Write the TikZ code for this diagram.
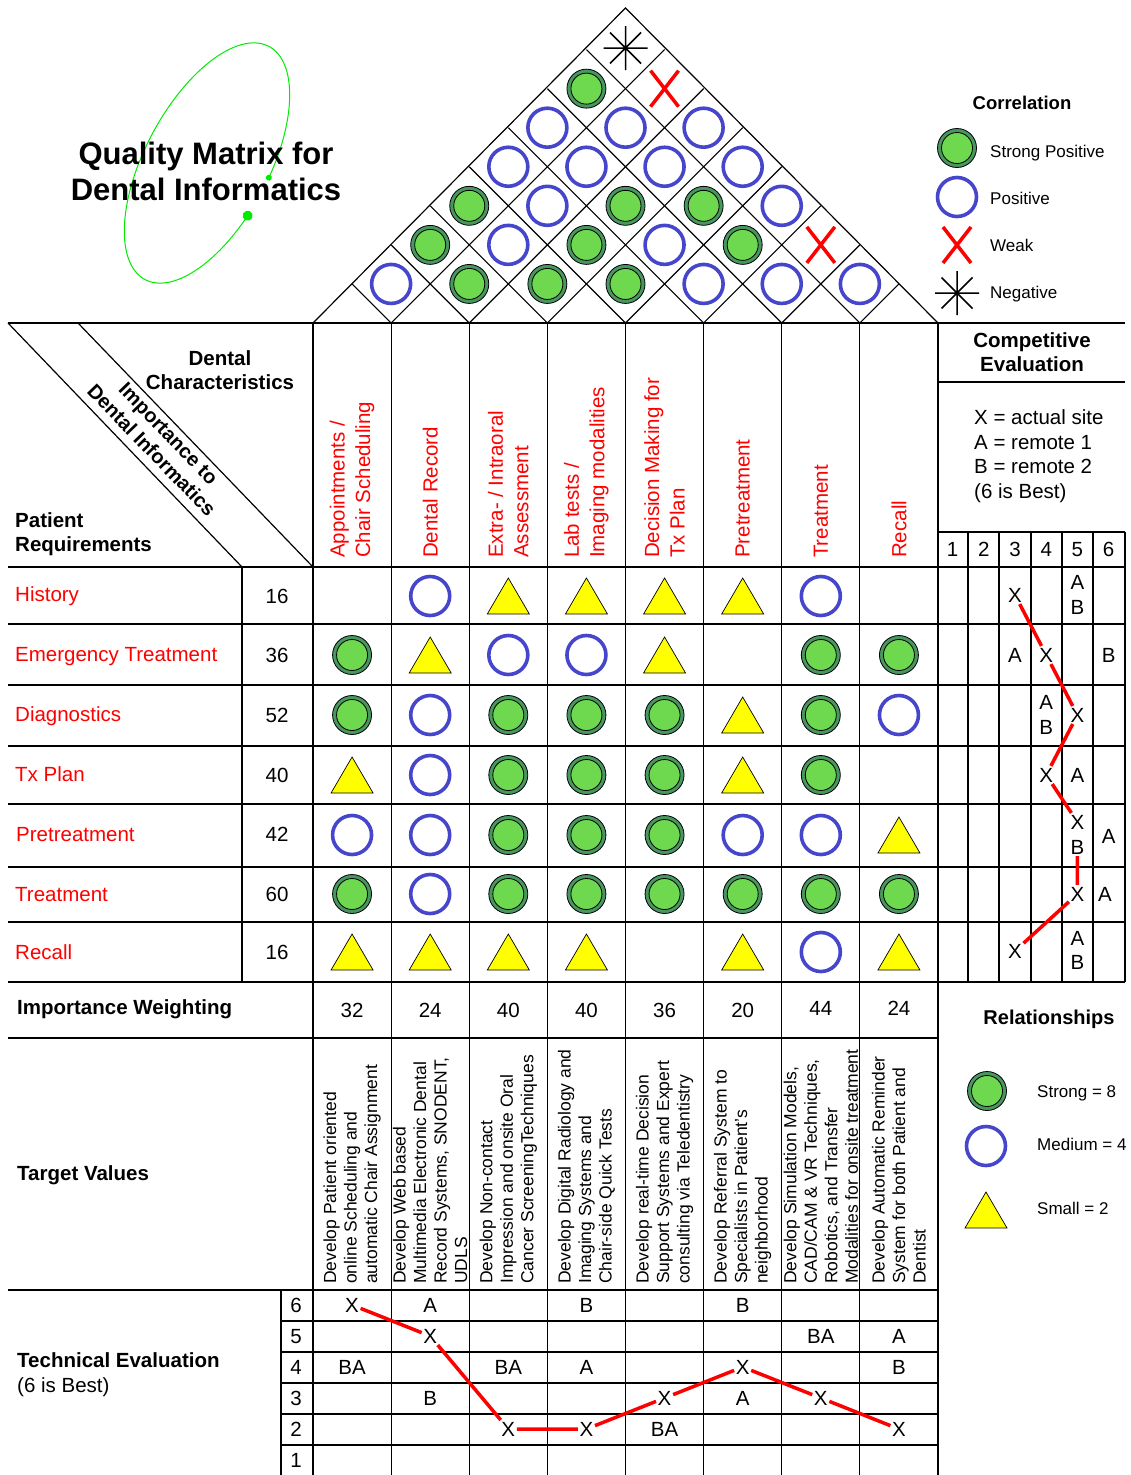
\documentclass[tikz,border=0pt]{standalone}
\usepackage{fontspec}
\setmainfont{Liberation Sans}
\definecolor{qred}{RGB}{255,0,0}
\definecolor{qblue}{RGB}{70,70,205}
\definecolor{qdkgreen}{RGB}{72,150,96}
\definecolor{qltgreen}{RGB}{110,216,78}
\definecolor{qyellow}{RGB}{255,255,0}
\definecolor{qlime}{RGB}{0,235,0}
\newcommand\qHead{\fontsize{20.5}{25.5}\selectfont}
\newcommand\qHeadB{\fontsize{20.5}{24.5}\selectfont\bfseries}
\newcommand\qTgt{\fontsize{17.5}{20.5}\selectfont}
\newcommand\qLeg{\fontsize{17}{20}\selectfont}
\newcommand\qTitle{\fontsize{31}{36}\selectfont\bfseries}
\begin{document}
\begin{tikzpicture}[x=1pt,y=-1pt,
  gline/.style={line width=1.2pt, black},
  qstrong/.style={circle, draw=black, line width=0.8pt, fill=qdkgreen, minimum size=39pt, inner sep=0pt,
    path picture={\fill[qltgreen, draw=black, line width=0.8pt] (path picture bounding box.center) circle[radius=15.5pt];}},
  qmedium/.style={circle, draw=qblue, line width=3.6pt, minimum size=39pt, inner sep=0pt},
  tri/.pic={\draw[black, fill=qyellow, line width=0.7pt] (-21,18) -- (21,18) -- (0,-18) -- cycle;},
  weak/.pic={\draw[qred, line width=3.5pt] (-14,-18) -- (14,18) (-14,18) -- (14,-18);},
  neg/.pic={\draw[black, line width=1.5pt] (-22,0) -- (22,0) (0,-22) -- (0,22) (-15.5,-15.5) -- (15.5,15.5) (-15.5,15.5) -- (15.5,-15.5);},
  txtA/.style={font=\qHead, text height=14.7pt, text depth=0pt, inner sep=0pt},
  txtB/.style={font=\qHeadB, text height=14.7pt, text depth=0pt, inner sep=0pt},
  txtL/.style={font=\qLeg, text height=12.2pt, text depth=0pt, inner sep=0pt},
  rowlab/.style={txtA, text=qred, anchor=west},
  colhead/.style={rotate=90, anchor=west, align=left, text=qred, font=\qHead, inner sep=0pt},
  tgt/.style={rotate=90, anchor=west, align=left, font=\qTgt, inner sep=0pt},
  xmark/.style={txtA, inner sep=1.5pt},
  redline/.style={qred, line width=3.5pt}
]
\useasboundingbox (0,0) rectangle (1130,1475);

% ---------- title with green ellipse ----------
\begin{scope}[shift={(207,163)}, rotate=62, x=1pt, y=1pt]
  \draw[qlime, line width=1pt] (-83:132 and 62) arc[start angle=-83, end angle=258, x radius=132, y radius=62];
  \fill[qlime] (-83:132 and 62) circle[radius=3];
  \fill[qlime] (258:132 and 62) circle[radius=5];
\end{scope}
\node[font=\qTitle, align=center, inner sep=0pt] (title) at (206,171) {Quality Matrix for\\Dental Informatics};

% ---------- roof ----------
\draw[gline] (313,323) -- (625.5,8) -- (938,323);
\foreach \k in {1,...,7}{
  \pgfmathsetmacro{\bx}{313+78.125*\k}
  \draw[gline] ({(313+\bx)/2},{323-(\bx-313)/2}) -- (\bx,323) -- ({(\bx+938)/2},{323-(938-\bx)/2});
}
\foreach \i/\j in {2/3,3/4,4/5,1/3,3/5,5/7,1/4,3/6,4/7,1/7}{
  \pgfmathsetmacro{\xx}{313+78.125*((\i+\j)/2-0.5)}
  \pgfmathsetmacro{\yy}{323-(\j-\i)*39.06}
  \node[qstrong] (r-\i-\j) at (\xx,\yy) {};
}
\foreach \i/\j in {1/2,5/6,6/7,7/8,2/4,4/6,2/5,5/8,1/5,2/6,3/7,4/8,1/6,2/7,3/8}{
  \pgfmathsetmacro{\xx}{313+78.125*((\i+\j)/2-0.5)}
  \pgfmathsetmacro{\yy}{323-(\j-\i)*39.06}
  \node[qmedium] (r-\i-\j) at (\xx,\yy) {};
}
\foreach \i/\j in {6/8,2/8}{
  \pgfmathsetmacro{\xx}{313+78.125*((\i+\j)/2-0.5)}
  \pgfmathsetmacro{\yy}{323-(\j-\i)*39.06}
  \pic at (\xx,\yy) {weak};
}
\pic at (625.5,48) {neg};

% ---------- grid lines ----------
\draw[gline] (8,323) -- (1125,323);
\draw[gline] (938,382) -- (1125,382);
\draw[gline] (938,532) -- (1125,532);
\foreach \y in {567,624,685,746,804,867,922,982}{\draw[gline] (8,\y) -- (1125,\y);}
\draw[gline] (8,1038) -- (938,1038);
\draw[gline] (8,1290) -- (938,1290);
\foreach \y in {1321,1352,1383,1414,1445}{\draw[gline] (281,\y) -- (938,\y);}
\foreach \k in {0,...,8}{\draw[gline] ({313+78.125*\k},323) -- ({313+78.125*\k},1475);}
\draw[gline] (242,567) -- (242,982);
\draw[gline] (281,1290) -- (281,1475);
\foreach \x in {968,999,1031,1062,1093,1125}{\draw[gline] (\x,532) -- (\x,982);}
\draw[gline] (8,323) -- (242,567);
\draw[gline] (78,323) -- (313,567);

% ---------- header texts ----------
\node[font=\qHeadB, align=center, inner sep=0pt] (dchar) at (220,370) {Dental\\Characteristics};
\node[font=\qHeadB, align=left, anchor=west, inner sep=0pt] (preq) at (15,534) {Patient\\Requirements};
\node[font=\fontsize{20}{23.5}\selectfont\bfseries, align=center, rotate=-46, inner sep=0pt] (imp) at (160,442) {Importance to\\Dental Informatics};

\node[colhead] (h1) at (352.06,558) {Appointments /\\Chair Scheduling};
\node[colhead] (h2) at (430.19,558) {Dental Record};
\node[colhead] (h3) at (508.31,558) {Extra- / Intraoral\\Assessment};
\node[colhead] (h4) at (586.44,558) {Lab tests /\\Imaging modalities};
\node[colhead] (h5) at (664.56,558) {Decision Making for\\Tx Plan};
\node[colhead] (h6) at (742.69,558) {Pretreatment};
\node[colhead] (h7) at (820.81,558) {Treatment};
\node[colhead] (h8) at (898.94,558) {Recall};

% ---------- row labels & importance ----------
\node[rowlab] (l1) at (15,594) {History};
\node[rowlab] (l2) at (15,654) {Emergency Treatment};
\node[rowlab] (l3) at (15,714) {Diagnostics};
\node[rowlab] (l4) at (15,774) {Tx Plan};
\node[rowlab] (l5) at (16,834) {Pretreatment};
\node[rowlab] (l6) at (15,894) {Treatment};
\node[rowlab] (l7) at (15,952) {Recall};
\foreach \r/\v in {1/16,2/36,3/52,4/40,5/42,6/60,7/16}{
  \pgfmathsetmacro{\yy}{{596,655,715,775,834,894,952}[\r-1]}
  \node[txtA] (w-\r) at (277,\yy) {\v};
}

% ---------- relationship matrix ----------
\foreach \r/\c in {2/1,2/7,2/8,3/1,3/3,3/4,3/5,3/7,4/3,4/4,4/5,4/7,5/3,5/4,5/5,6/1,6/3,6/4,6/5,6/6,6/7,6/8}{
  \pgfmathsetmacro{\xx}{313+78.125*(\c-0.5)}
  \pgfmathsetmacro{\yy}{{596,655,715,775,835,894,952}[\r-1]}
  \node[qstrong] (m-\r-\c) at (\xx,\yy) {};
}
\foreach \r/\c in {1/2,1/7,2/3,2/4,3/2,3/8,4/2,5/1,5/2,5/6,5/7,6/2,7/7}{
  \pgfmathsetmacro{\xx}{313+78.125*(\c-0.5)}
  \pgfmathsetmacro{\yy}{{596,655,715,775,835,894,952}[\r-1]}
  \node[qmedium] (m-\r-\c) at (\xx,\yy) {};
}
\foreach \r/\c in {1/3,1/4,1/5,1/6,2/2,2/5,3/6,4/1,4/6,5/8,7/1,7/2,7/3,7/4,7/6,7/8}{
  \pgfmathsetmacro{\xx}{313+78.125*(\c-0.5)}
  \pgfmathsetmacro{\yy}{{596,655,715,775,835,894,952}[\r-1]}
  \pic at (\xx,\yy) {tri};
}

% ---------- importance weighting ----------
\node[txtB, anchor=west] (iw) at (17,1007) {Importance Weighting};
\foreach \c/\v/\yy in {1/32/1010,2/24/1010,3/40/1010,4/40/1010,5/36/1010,6/20/1010,7/44/1008,8/24/1008}{
  \node[txtA] (iw-\c) at ({313+78.125*(\c-0.5)},\yy) {\v};
}

% ---------- target values ----------
\node[txtB, anchor=west] (tv) at (17,1173) {Target Values};
\node[tgt] (t1) at (352.06,1284) {Develop Patient oriented\\online Scheduling and\\automatic Chair Assignment};
\node[tgt] (t2) at (430.19,1284) {Develop Web based\\Multimedia Electronic Dental\\Record Systems, SNODENT,\\UDLS};
\node[tgt] (t3) at (508.31,1284) {Develop Non-contact\\Impression and onsite Oral\\Cancer ScreeningTechniques};
\node[tgt] (t4) at (586.44,1284) {Develop Digital Radiology and\\Imaging Systems and\\Chair-side Quick Tests};
\node[tgt] (t5) at (664.56,1284) {Develop real-time Decision\\Support Systems and Expert\\consulting via Teledentistry};
\node[tgt] (t6) at (742.69,1284) {Develop Referral System to\\Specialists in Patient's\\neighborhood};
\node[tgt] (t7) at (820.81,1284) {Develop Simulation Models,\\CAD/CAM \& VR Techniques,\\Robotics, and Transfer\\Modalities for onsite treatment};
\node[tgt] (t8) at (898.94,1284) {Develop Automatic Reminder\\System for both Patient and\\Dentist};

% ---------- technical evaluation ----------
\node[txtB, anchor=west] (te) at (17,1360) {Technical Evaluation};
\node[txtA, anchor=west] (te2) at (17,1385) {(6 is Best)};
\foreach \v/\yy in {6/1305,5/1336,4/1367,3/1398,2/1429,1/1460}{
  \node[txtA] (tr-\v) at (296,\yy) {\v};
}
\foreach \c/\yy/\t in {2/1305/A,4/1305/B,6/1305/B,7/1336/BA,8/1336/A,1/1367/BA,3/1367/BA,4/1367/A,8/1367/B,2/1398/B,6/1398/A,5/1429/BA}{
  \node[txtA] (tl-\c-\yy) at ({313+78.125*(\c-0.5)},\yy) {\t};
}
\foreach \c/\yy in {1/1305,2/1336,3/1429,4/1429,5/1398,6/1367,7/1398,8/1429}{
  \node[xmark] (tx\c) at ({313+78.125*(\c-0.5)},\yy) {X};
}
\draw[redline] (tx1) -- (tx2) -- (tx3) -- (tx4) -- (tx5) -- (tx6) -- (tx7) -- (tx8);

% ---------- competitive evaluation ----------
\node[font=\qHeadB, align=center, inner sep=0pt] (ce) at (1032,352) {Competitive\\Evaluation};
\node[font=\fontsize{20.5}{24.6}\selectfont, align=left, anchor=west, inner sep=0pt] (cekey) at (974,456) {X = actual site\\A = remote 1\\B = remote 2\\(6 is Best)};
\foreach \k in {1,...,6}{
  \node[txtA] (cn-\k) at ({937+31.2*(\k-0.5)},549) {\k};
}
\foreach \k/\yy/\t in {5/582/A,5/607/B,3/655/A,6/655/B,4/702/A,4/727/B,5/775/A,6/836/A,5/938/A,5/962/B}{
  \node[txtA] (cl-\k-\yy) at ({937+31.2*(\k-0.5)},\yy) {\t};
}
\node[txtA] (cA6) at (1105,894) {A};
\node[xmark] (cx1) at (1015,595) {X};
\node[xmark] (cx2) at (1046.2,655) {X};
\node[xmark] (cx3) at (1077.4,715) {X};
\node[xmark] (cx4) at (1046.2,775) {X};
\node[xmark] (cx5) at (1077.4,822) {X};
\node[xmark] (cb5) at (1077.4,847) {B};
\node[xmark] (cx6) at (1077.4,894) {X};
\node[xmark] (cx7) at (1015,951) {X};
\draw[redline] (cx1) -- (cx2) -- (cx3) -- (cx4) -- (cx5);
\draw[redline] (cb5) -- (cx6) -- (cx7);

% ---------- correlation legend ----------
\node[font=\fontsize{18.5}{22}\selectfont\bfseries, inner sep=0pt] (corr) at (1022,103) {Correlation};
\node[qstrong] (lg1) at (957,148) {};
\node[qmedium] (lg2) at (957,197) {};
\pic at (957,245) {weak};
\pic at (957,293) {neg};
\node[txtL, anchor=west] (lt1) at (990,151) {Strong Positive};
\node[txtL, anchor=west] (lt2) at (990,198) {Positive};
\node[txtL, anchor=west] (lt3) at (990,245) {Weak};
\node[txtL, anchor=west] (lt4) at (990,292) {Negative};

% ---------- relationships legend ----------
\node[font=\fontsize{20}{24}\selectfont\bfseries, inner sep=0pt] (rel) at (1049,1019) {Relationships};
\node[qstrong] (rg1) at (987,1091) {};
\node[qmedium] (rg2) at (986,1146) {};
\pic at (986,1210) {tri};
\node[txtL, anchor=west] (rt1) at (1037,1091) {Strong = 8};
\node[txtL, anchor=west] (rt2) at (1037,1144) {Medium = 4};
\node[txtL, anchor=west] (rt3) at (1037,1208) {Small = 2};
\end{tikzpicture}
\end{document}
